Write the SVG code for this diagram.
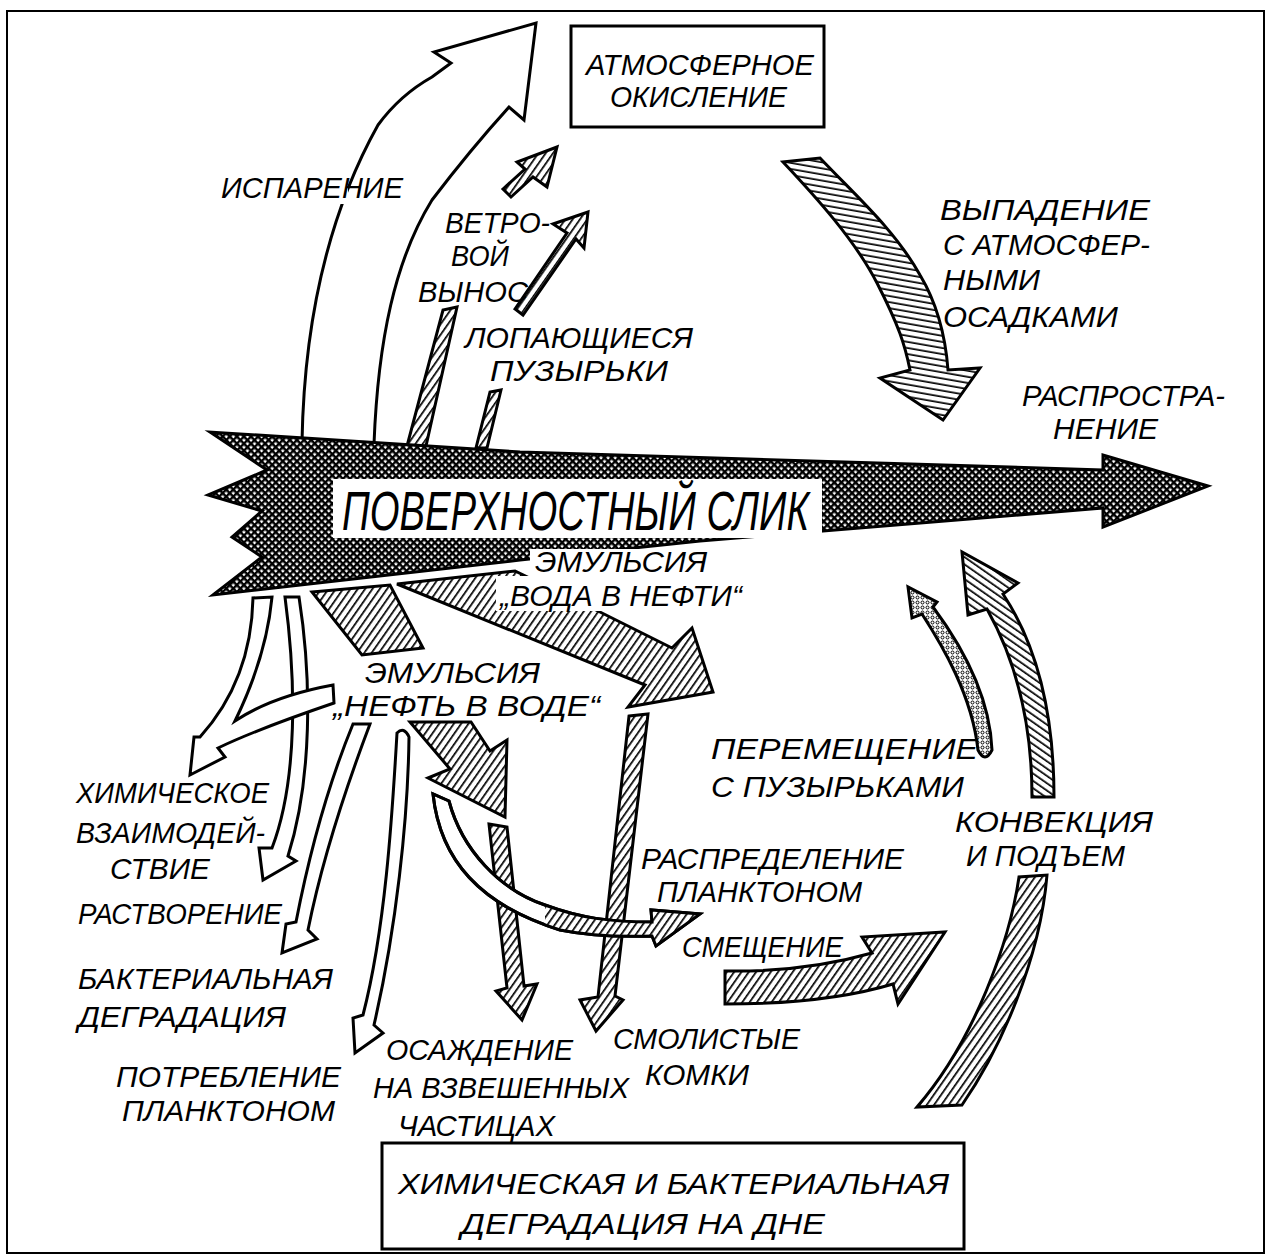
<svg xmlns="http://www.w3.org/2000/svg" width="1271" height="1258" viewBox="0 0 1271 1258">
<defs>
<pattern id="hatch" patternUnits="userSpaceOnUse" width="6" height="6" patternTransform="rotate(35)"><rect width="6" height="6" fill="#fff"/><rect x="0" y="0" width="1.7" height="6" fill="#000"/></pattern>
<pattern id="hatchH" patternUnits="userSpaceOnUse" width="6" height="6" patternTransform="rotate(-80)"><rect width="6" height="6" fill="#fff"/><rect x="0" y="0" width="1.7" height="6" fill="#000"/></pattern>
<pattern id="hatchB" patternUnits="userSpaceOnUse" width="6" height="6" patternTransform="rotate(-55)"><rect width="6" height="6" fill="#fff"/><rect x="0" y="0" width="1.7" height="6" fill="#000"/></pattern>
<pattern id="xh" patternUnits="userSpaceOnUse" width="5" height="5" patternTransform="rotate(45)"><rect width="5" height="5" fill="#fff"/><path d="M0,1.2H5M1.2,0V5" stroke="#000" stroke-width="2.4"/></pattern>
<pattern id="dots" patternUnits="userSpaceOnUse" width="5" height="5"><rect width="5" height="5" fill="#fff"/><circle cx="2.5" cy="2.5" r="1.5" fill="none" stroke="#000" stroke-width="1"/></pattern>
<clipPath id="clipEnd"><rect x="545" y="880" width="180" height="80"/></clipPath>
<path id="distrib" d="M433,794 C440,860 480,905 560,930 C590,936 620,937 652,936 L656,946 L700,914 L651,910 L652,922 C610,922 580,918 545,905 C500,890 462,850 449,801 Z"/>
</defs>
<style>
.t{font-family:"Liberation Sans",Arial,sans-serif;font-style:italic;font-size:30px;fill:#000}
.big{font-size:56px}
.o{stroke:#000;stroke-width:3;stroke-linejoin:miter}
.w{fill:#fff}
.h{fill:url(#hatch)}
.bg{fill:#fff;stroke:none}
.box{fill:#fff;stroke:#000;stroke-width:3}
</style>
<rect x="7" y="11" width="1257" height="1242" fill="none" stroke="#000" stroke-width="2"/>

<g id="connectors">
  <!-- evaporation -->
  <path class="o w" d="M302,442 C304,330 325,220 378,125 Q400,95 432,77 L451,63 L434,52 L536,23 L524,120 L509,107 Q470,150 432,200 C395,260 378,340 374,444 Z"/>
  <!-- wind transport -->
  <path class="o h" d="M407,446 L426,446 L457,307 L443,310 Z"/>
  <path class="o h" d="M503,189 L525,169 L517,162 L557,147 L547,187 L533,177 L511,197 Z"/>
  <!-- bursting bubbles -->
  <path class="o h" d="M476,448 L487,448 L501,390 L490,392 Z"/>
  <path class="o h" d="M515,309 L567,233 L553,224 L588,212 L584,248 L576,239 L523,315 Z"/>
  <!-- precipitation -->
  <path class="o" fill="url(#hatchH)" d="M783,162 C815,196 855,240 877,283 S905,345 910,370 L880,378 L943,420 L980,368 L948,370 C945,330 935,300 920,275 C895,230 855,195 820,158 Z"/>
  <!-- water in oil emulsion -->
  <path class="o h" d="M397,584 L515,571 L600,612 L672,648 L692,628 L713,692 L628,707 L645,685 Z"/>
  <!-- oil in water emulsion -->
  <path class="o h" d="M312,592 L390,585 L423,648 L362,655 Z"/>
  <path class="o h" d="M410,722 L450,769 L428,778 L505,817 L507,740 L490,751 L471,722 Z"/>
  <!-- sedimentation on suspended particles -->
  <path class="o h" d="M489,824 L507,827 L524,986 L537,984 L522,1020 L496,991 L507,988 Z"/>
  <!-- tar balls -->
  <path class="o h" d="M629,716 L648,714 L615,996 L623,1000 L596,1031 L580,1000 L598,997 Z"/>
  <!-- distribution by plankton -->
  <use href="#distrib" class="o w"/>
  <use href="#distrib" class="h" clip-path="url(#clipEnd)"/>
  <use href="#distrib" fill="none" stroke="#000" stroke-width="3"/>
  <!-- dissolution -->
  <path class="o w" d="M285,597 C296,680 298,780 272,848 L259,848 L263,880 L296,861 L288,856 C312,780 312,680 299,597 Z"/>
  <!-- chemical interaction -->
  <path class="o w" d="M253,598 C252,645 238,695 200,737 L194,737 L190,775 L225,757 L218,748 C245,735 290,718 334,703 L333,685 C295,692 262,703 235,721 C255,680 268,640 272,597 Z"/>
  <!-- bacterial degradation -->
  <path class="o w" d="M353,724 C330,780 310,850 296,922 L286,924 L282,953 L317,939 L308,930 C322,860 345,790 370,724 Z"/>
  <!-- consumption by plankton -->
  <path class="o w" d="M397,733 C392,820 385,930 363,1015 L353,1018 L355,1053 L383,1033 L374,1025 C396,930 408,820 409,737 Q404,726 397,733 Z"/>
  <!-- displacement -->
  <path class="o h" d="M725,971 C780,972 830,965 872,953 L862,937 L945,932 L898,1004 L893,984 C850,997 790,1004 725,1004 Z"/>
  <!-- transport with bubbles -->
  <path class="o" stroke-width="2.5" fill="url(#dots)" d="M922,614 C942,645 972,695 978,750 Q985,764 992,750 C990,700 965,650 933,607 L937,602 L908,587 L912,618 Z"/>
  <!-- convection and rise -->
  <path class="o" fill="url(#hatchB)" d="M987,609 C1010,650 1032,710 1032,797 L1054,797 C1054,720 1040,650 1003,594 L1018,583 L962,552 L968,615 Z"/>
  <path class="o h" d="M1019,877 C1010,940 975,1040 917,1107 L962,1105 C1000,1050 1040,960 1047,875 Z"/>
</g>

<g id="node-slick">
  <path class="o" fill="url(#xh)" d="M210,432 L267,470 L208,495 L262,511 L232,537 L262,557 L213,595 L520,560 L700,541 L1103,508 L1103,527 L1208,486 L1103,455 L1103,470 L520,452 Z"/>
  <rect class="bg" x="333" y="479" width="489" height="59"/>
  <text class="t big" x="342" y="530" textLength="467" lengthAdjust="spacingAndGlyphs">ПОВЕРХНОСТНЫЙ СЛИК</text>
</g>

<g id="node-atm-oxidation">
  <rect class="box" x="571" y="26" width="253" height="101"/>
  <text class="t" x="586" y="75" textLength="228" lengthAdjust="spacingAndGlyphs">АТМОСФЕРНОЕ</text>
  <text class="t" x="610" y="107" textLength="177" lengthAdjust="spacingAndGlyphs">ОКИСЛЕНИЕ</text>
</g>

<g id="node-bottom-degradation">
  <rect class="box" x="382" y="1143" width="582" height="106"/>
  <text class="t" x="398" y="1194" textLength="551" lengthAdjust="spacingAndGlyphs">ХИМИЧЕСКАЯ И БАКТЕРИАЛЬНАЯ</text>
  <text class="t" x="461" y="1234" textLength="364" lengthAdjust="spacingAndGlyphs">ДЕГРАДАЦИЯ НА ДНЕ</text>
</g>

<g id="label-evaporation">
  <rect class="bg" x="218" y="168" width="130" height="36"/>
  <text class="t" x="221" y="198" textLength="182" lengthAdjust="spacingAndGlyphs">ИСПАРЕНИЕ</text>
</g>
<g id="label-wind">
  <text class="t" x="445" y="233" textLength="105" lengthAdjust="spacingAndGlyphs">ВЕТРО-</text>
  <text class="t" x="451" y="266" textLength="58" lengthAdjust="spacingAndGlyphs">ВОЙ</text>
  <text class="t" x="418" y="302" textLength="110" lengthAdjust="spacingAndGlyphs">ВЫНОС</text>
</g>
<g id="label-bubbles">
  <text class="t" x="465" y="348" textLength="228" lengthAdjust="spacingAndGlyphs">ЛОПАЮЩИЕСЯ</text>
  <text class="t" x="490" y="381" textLength="178" lengthAdjust="spacingAndGlyphs">ПУЗЫРЬКИ</text>
</g>
<g id="label-precipitation">
  <text class="t" x="940" y="220" textLength="210" lengthAdjust="spacingAndGlyphs">ВЫПАДЕНИЕ</text>
  <text class="t" x="943" y="255" textLength="207" lengthAdjust="spacingAndGlyphs">С АТМОСФЕР-</text>
  <text class="t" x="943" y="290" textLength="97" lengthAdjust="spacingAndGlyphs">НЫМИ</text>
  <text class="t" x="943" y="327" textLength="175" lengthAdjust="spacingAndGlyphs">ОСАДКАМИ</text>
</g>
<g id="label-spreading">
  <text class="t" x="1022" y="406" textLength="203" lengthAdjust="spacingAndGlyphs">РАСПРОСТРА-</text>
  <text class="t" x="1053" y="439" textLength="105" lengthAdjust="spacingAndGlyphs">НЕНИЕ</text>
</g>
<g id="label-water-in-oil">
  <rect class="bg" x="530" y="549" width="182" height="27"/>
  <rect class="bg" x="496" y="576" width="250" height="35"/>
  <text class="t" x="535" y="572" textLength="172" lengthAdjust="spacingAndGlyphs">ЭМУЛЬСИЯ</text>
  <text class="t" x="500" y="606" textLength="242" lengthAdjust="spacingAndGlyphs">„ВОДА В НЕФТИ“</text>
</g>
<g id="label-oil-in-water">
  <text class="t" x="365" y="683" textLength="175" lengthAdjust="spacingAndGlyphs">ЭМУЛЬСИЯ</text>
  <text class="t" x="333" y="716" textLength="267" lengthAdjust="spacingAndGlyphs">„НЕФТЬ В ВОДЕ“</text>
</g>
<g id="label-chemical">
  <text class="t" x="76" y="803" textLength="193" lengthAdjust="spacingAndGlyphs">ХИМИЧЕСКОЕ</text>
  <text class="t" x="76" y="843" textLength="189" lengthAdjust="spacingAndGlyphs">ВЗАИМОДЕЙ-</text>
  <text class="t" x="110" y="879" textLength="100" lengthAdjust="spacingAndGlyphs">СТВИЕ</text>
</g>
<g id="label-dissolution">
  <text class="t" x="78" y="924" textLength="204" lengthAdjust="spacingAndGlyphs">РАСТВОРЕНИЕ</text>
</g>
<g id="label-bacterial">
  <text class="t" x="78" y="989" textLength="255" lengthAdjust="spacingAndGlyphs">БАКТЕРИАЛЬНАЯ</text>
  <text class="t" x="78" y="1027" textLength="208" lengthAdjust="spacingAndGlyphs">ДЕГРАДАЦИЯ</text>
</g>
<g id="label-consumption">
  <text class="t" x="116" y="1087" textLength="225" lengthAdjust="spacingAndGlyphs">ПОТРЕБЛЕНИЕ</text>
  <text class="t" x="122" y="1121" textLength="213" lengthAdjust="spacingAndGlyphs">ПЛАНКТОНОМ</text>
</g>
<g id="label-sedimentation">
  <text class="t" x="386" y="1060" textLength="187" lengthAdjust="spacingAndGlyphs">ОСАЖДЕНИЕ</text>
  <text class="t" x="373" y="1098" textLength="256" lengthAdjust="spacingAndGlyphs">НА ВЗВЕШЕННЫХ</text>
  <text class="t" x="398" y="1136" textLength="157" lengthAdjust="spacingAndGlyphs">ЧАСТИЦАХ</text>
</g>
<g id="label-tar">
  <text class="t" x="613" y="1049" textLength="187" lengthAdjust="spacingAndGlyphs">СМОЛИСТЫЕ</text>
  <text class="t" x="645" y="1085" textLength="104" lengthAdjust="spacingAndGlyphs">КОМКИ</text>
</g>
<g id="label-bubble-transport">
  <text class="t" x="711" y="759" textLength="267" lengthAdjust="spacingAndGlyphs">ПЕРЕМЕЩЕНИЕ</text>
  <text class="t" x="711" y="797" textLength="253" lengthAdjust="spacingAndGlyphs">С ПУЗЫРЬКАМИ</text>
</g>
<g id="label-plankton-distribution">
  <text class="t" x="641" y="869" textLength="263" lengthAdjust="spacingAndGlyphs">РАСПРЕДЕЛЕНИЕ</text>
  <text class="t" x="657" y="902" textLength="205" lengthAdjust="spacingAndGlyphs">ПЛАНКТОНОМ</text>
</g>
<g id="label-displacement">
  <text class="t" x="682" y="957" textLength="161" lengthAdjust="spacingAndGlyphs">СМЕЩЕНИЕ</text>
</g>
<g id="label-convection">
  <text class="t" x="955" y="832" textLength="198" lengthAdjust="spacingAndGlyphs">КОНВЕКЦИЯ</text>
  <text class="t" x="966" y="866" textLength="159" lengthAdjust="spacingAndGlyphs">И ПОДЪЕМ</text>
</g>
</svg>
